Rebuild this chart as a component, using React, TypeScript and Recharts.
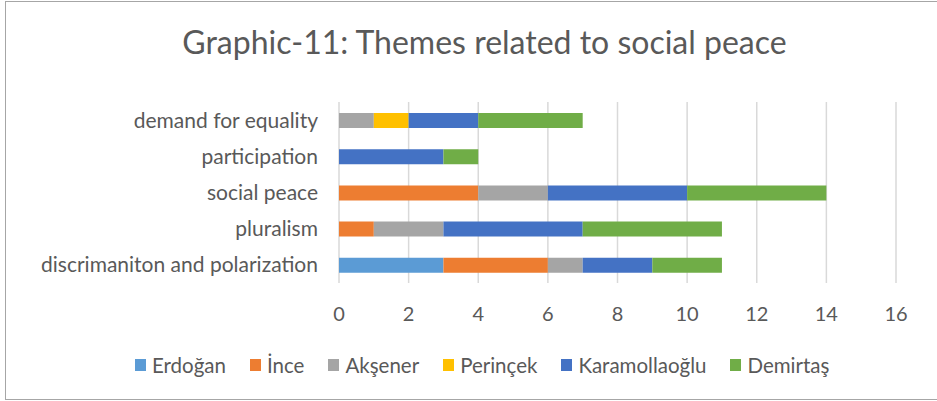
import React from 'react';
import { BarChart, Bar, XAxis, YAxis, CartesianGrid, Legend } from 'recharts';

const categories = [
  'demand for equality',
  'participation',
  'social peace',
  'pluralism',
  'discrimaniton and polarization',
];
const erdogan = [0, 0, 0, 0, 3];
const ince = [0, 0, 4, 1, 3];
const aksener = [1, 0, 2, 2, 1];
const perincek = [1, 0, 0, 0, 0];
const karamollaoglu = [2, 3, 4, 4, 2];
const demirtas = [3, 1, 4, 4, 2];
const xTicks = [0, 2, 4, 6, 8, 10, 12, 14, 16];

const series = [
  { key: 'Erdoğan', values: erdogan, color: '#5b9bd5' },
  { key: 'İnce', values: ince, color: '#ed7d31' },
  { key: 'Akşener', values: aksener, color: '#a5a5a5' },
  { key: 'Perinçek', values: perincek, color: '#ffc000' },
  { key: 'Karamollaoğlu', values: karamollaoglu, color: '#4472c4' },
  { key: 'Demirtaş', values: demirtas, color: '#70ad47' },
];

const data = categories.map((name, i) => {
  const row: Record<string, string | number> = { name };
  series.forEach((s) => {
    row[s.key] = s.values[i];
  });
  return row;
});

const font = 'Lato, "Open Sans", sans-serif';
const textColor = '#595959';

const renderLegend = () => (
  <div style={{ display: 'flex', gap: 24, fontSize: 20.5, fontFamily: font, color: textColor }}>
    {series.map((s) => (
      <div key={s.key} style={{ display: 'flex', alignItems: 'center', gap: 6 }}>
        <span style={{ width: 11, height: 12, background: s.color, display: 'inline-block' }} />
        <span>{s.key}</span>
      </div>
    ))}
  </div>
);

export default function App() {
  return (
    <div
      style={{
        position: 'absolute',
        left: 5,
        top: 1,
        width: 940,
        height: 397,
        border: '1px solid #a6a6a6',
        background: '#fff',
        fontFamily: font,
        overflow: 'hidden',
      }}
    >
      <div
        style={{
          position: 'absolute',
          top: 20,
          left: 0,
          width: 957,
          textAlign: 'center',
          fontSize: 32,
          color: textColor,
          fontFamily: font,
        }}
      >
        Graphic-11: Themes related to social peace
      </div>
      <BarChart
        width={925}
        height={395}
        data={data}
        layout="vertical"
        margin={{ top: 100, right: 35, bottom: 60, left: 0 }}
        barSize={15}
        style={{ position: 'absolute', left: 0, top: 0 }}
      >
        <CartesianGrid horizontal={false} stroke="#d9d9d9" strokeWidth={1.5} />
        <XAxis
          type="number"
          domain={[0, 16]}
          ticks={xTicks}
          axisLine={false}
          tickLine={false}
          tick={{ fill: textColor, fontSize: 20, fontFamily: font }}
          tickMargin={18}
        />
        <YAxis
          type="category"
          dataKey="name"
          width={333}
          axisLine={false}
          tickLine={false}
          tick={{ fill: textColor, fontSize: 21, fontFamily: font }}
          tickMargin={15}
        />
        <Legend
          verticalAlign="bottom"
          content={renderLegend}
          wrapperStyle={{ bottom: 20, left: 129, width: 'auto' }}
        />
        {series.map((s) => (
          <Bar key={s.key} dataKey={s.key} stackId="a" fill={s.color} isAnimationActive={false} />
        ))}
      </BarChart>
    </div>
  );
}
